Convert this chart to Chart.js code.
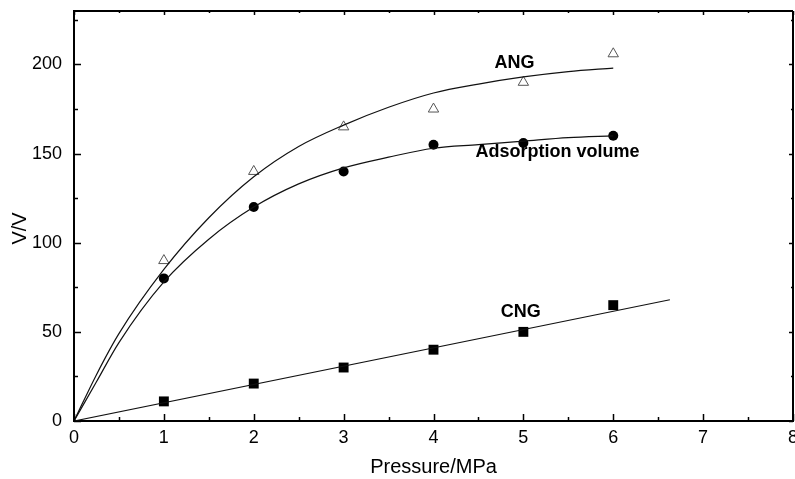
<!DOCTYPE html>
<html>
<head>
<meta charset="utf-8">
<script src="https://cdn.jsdelivr.net/npm/chart.js@4/dist/chart.umd.min.js"></script>
<style>
html,body{margin:0;padding:0;background:#fff;overflow:hidden;}
#wrap{position:relative;width:800px;height:479px;}
</style>
</head>
<body>
<div id="wrap"><canvas id="c"></canvas></div>
<script>
// ---- data ----
const pressures = [1, 2, 3, 4, 5, 6];
const angValues = [90, 140, 165, 175, 190, 206];
const adsorptionValues = [80, 120, 140, 155, 156, 160];
const cngValues = [11, 21, 30, 40, 50, 65];

const fitPressures = [0, 0.25, 0.5, 1, 1.5, 2, 2.5, 3, 3.5, 4, 4.5, 5, 5.5, 6];
const angFit = [0, 26, 49, 85, 114, 137, 154, 166, 176, 184, 189, 193, 196, 198];
const adsorptionFit = [0, 22, 44, 78, 102, 120, 133, 142, 148, 153, 155, 157, 159, 160];
const cngFitPressures = [0, 6.63];
const cngFit = [0, 68];

const xTickValues = [0, 1, 2, 3, 4, 5, 6, 7, 8];
const yTickValues = [0, 50, 100, 150, 200];

const xTitle = 'Pressure/MPa';
const yTitle = 'V/V';

const curveLabels = [
  {text: 'ANG', x: 4.9, y: 201},
  {text: 'Adsorption volume', x: 5.38, y: 151},
  {text: 'CNG', x: 4.97, y: 61}
];

const pts = (xs, ys) => xs.map((x, i) => ({x: x, y: ys[i]}));

const FONT = "'Liberation Sans', Arial, sans-serif";

const frameTicks = {
  id: 'frameTicks',
  afterDraw(chart) {
    const {ctx, chartArea: a, scales: {x, y}} = chart;
    ctx.save();
    ctx.strokeStyle = '#000';
    // top and right frame
    ctx.lineWidth = 2;
    ctx.beginPath();
    ctx.moveTo(a.left, a.top); ctx.lineTo(a.right, a.top);
    ctx.moveTo(a.right, a.top); ctx.lineTo(a.right, a.bottom);
    ctx.stroke();
    ctx.lineWidth = 1.5;
    ctx.beginPath();
    for (let v = 0; v <= 8.001; v += 0.5) {
      const px = Math.round(x.getPixelForValue(v)) + 0.5;
      const major = Math.abs(v - Math.round(v)) < 1e-6;
      const len = major ? 7 : 4;
      ctx.moveTo(px, a.bottom); ctx.lineTo(px, a.bottom - len);
      ctx.moveTo(px, a.top); ctx.lineTo(px, a.top + (major ? 4 : 2));
    }
    for (let v = 0; v <= 225.001; v += 25) {
      const py = Math.round(y.getPixelForValue(v)) + 0.5;
      const major = v % 50 === 0;
      const len = major ? 7 : 4;
      ctx.moveTo(a.left, py); ctx.lineTo(a.left + len, py);
      ctx.moveTo(a.right, py); ctx.lineTo(a.right - (major ? 4 : 2), py);
    }
    ctx.stroke();
    // curve labels
    ctx.fillStyle = '#000';
    ctx.font = 'bold 18px ' + FONT;
    ctx.textAlign = 'center';
    ctx.textBaseline = 'middle';
    curveLabels.forEach(l => {
      ctx.fillText(l.text, x.getPixelForValue(l.x), y.getPixelForValue(l.y));
    });
    // y axis title
    ctx.font = '20px ' + FONT;
    ctx.translate(20, y.getPixelForValue(108));
    ctx.rotate(-Math.PI / 2);
    ctx.fillText(yTitle, 0, 0);
    ctx.restore();
  }
};

new Chart(document.getElementById('c'), {
  type: 'scatter',
  data: {
    datasets: [
      {label: 'ANG fit', type: 'line', data: pts(fitPressures, angFit), borderColor: '#111', borderWidth: 1.2,
       pointRadius: 0, cubicInterpolationMode: 'monotone', fill: false},
      {label: 'Adsorption fit', type: 'line', data: pts(fitPressures, adsorptionFit), borderColor: '#111', borderWidth: 1.2,
       pointRadius: 0, cubicInterpolationMode: 'monotone', fill: false},
      {label: 'CNG fit', type: 'line', data: pts(cngFitPressures, cngFit), borderColor: '#111', borderWidth: 1.2,
       pointRadius: 0, fill: false},
      {label: 'ANG', data: pts(pressures, angValues), pointStyle: 'triangle', pointRadius: 6,
       backgroundColor: '#fff', borderColor: '#555', borderWidth: 1},
      {label: 'Adsorption volume', data: pts(pressures, adsorptionValues), pointStyle: 'circle', pointRadius: 5,
       backgroundColor: '#000', borderColor: '#000', borderWidth: 0},
      {label: 'CNG', data: pts(pressures, cngValues), pointStyle: 'rect', pointRadius: 7,
       backgroundColor: '#000', borderColor: '#000', borderWidth: 0}
    ]
  },
  options: {
    responsive: true,
    maintainAspectRatio: false,
    animation: false,
    devicePixelRatio: 1,
    layout: {padding: {top: 11, right: 6, left: 0, bottom: 0}},
    plugins: {legend: {display: false}, tooltip: {enabled: false}},
    scales: {
      x: {
        type: 'linear', min: 0, max: 8,
        afterBuildTicks: s => { s.ticks = xTickValues.map(v => ({value: v})); },
        afterFit: s => { s.height = 58; s.paddingRight = 0; s.paddingLeft = 0; },
        grid: {display: false, drawTicks: false},
        border: {display: true, color: '#000', width: 2},
        ticks: {color: '#000', padding: 6, font: {family: FONT, size: 18}, maxRotation: 0},
        title: {display: true, text: xTitle, color: '#000', font: {family: FONT, size: 20}, padding: {top: 0, bottom: 0}}
      },
      y: {
        type: 'linear', min: 0, max: 230,
        afterBuildTicks: s => { s.ticks = yTickValues.map(v => ({value: v})); },
        afterFit: s => { s.width = 74; s.paddingTop = 0; s.paddingBottom = 0; },
        grid: {display: false, drawTicks: false},
        border: {display: true, color: '#000', width: 2},
        ticks: {color: '#000', padding: 12, font: {family: FONT, size: 18}},
        title: {display: false, text: yTitle}
      }
    }
  },
  plugins: [frameTicks]
});
</script>
</body>
</html>
